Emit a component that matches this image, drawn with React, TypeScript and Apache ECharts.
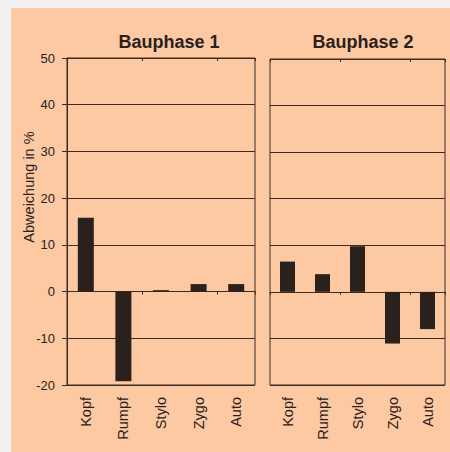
import React, { useEffect, useRef } from "react";
import * as echarts from "echarts";

const categories = ["Kopf", "Rumpf", "Stylo", "Zygo", "Auto"];
const phase1Values = [15.8, -19.2, 0.3, 1.6, 1.6];
const phase2Values = [6.5, 3.8, 9.8, -11.1, -8.0];
const titles = ["Bauphase 1", "Bauphase 2"];
const yAxisName = "Abweichung in %";

const INK = "#2b211c";
const LINE = "#3d2b22";
const PEACH = "#fcc9a3";

export default function App() {
  const ref = useRef<HTMLDivElement>(null);
  useEffect(() => {
    if (!ref.current) return;
    const chart = echarts.init(ref.current, null, { renderer: "svg" });
    const font = "Liberation Sans";
    const grids = [
      { left: 67, right: 195, top: 58, bottom: 67 },
      { left: 270, right: 5, top: 59, bottom: 67 },
    ];
    const xAxes: any[] = [];
    const yAxes: any[] = [];
    grids.forEach((_, gi) => {
      xAxes.push({
        type: "category", gridIndex: gi, data: categories,
        axisLine: { onZero: true, lineStyle: { color: LINE, width: 1 } },
        axisTick: { show: true, length: 3, inside: false, lineStyle: { color: LINE } },
        axisLabel: { show: false },
      });
      xAxes.push({
        type: "category", gridIndex: gi, data: categories,
        axisLine: { onZero: true, show: false },
        axisTick: { show: true, length: 3, inside: true, lineStyle: { color: LINE } },
        axisLabel: { show: false },
      });
      xAxes.push({
        type: "category", gridIndex: gi, data: categories, position: "bottom",
        axisLine: { show: false, onZero: false },
        axisTick: { show: false },
        axisLabel: { rotate: 90, margin: 12, color: INK, fontSize: 14.5, fontFamily: font },
      });
      yAxes.push({
        type: "value", gridIndex: gi, min: -20, max: 50, interval: 10,
        axisLine: { show: gi === 0, lineStyle: { color: LINE } },
        axisTick: { show: gi === 0, length: 5, lineStyle: { color: LINE } },
        axisLabel: { show: gi === 0, margin: 12, color: INK, fontSize: 13, fontFamily: font },
        splitLine: { show: true, lineStyle: { color: LINE, width: 1 } },
      });
    });
    // helper grid carrying only the y-axis title, centred where the reference has it
    xAxes.push({ type: "category", gridIndex: 2, data: categories, show: false });
    yAxes.push({
      type: "value", gridIndex: 2, min: 0, max: 1,
      name: yAxisName, nameLocation: "middle", nameRotate: 90, nameGap: 31,
      nameTextStyle: { color: INK, fontSize: 14.5, fontFamily: font },
      axisLine: { show: false }, axisTick: { show: false }, axisLabel: { show: false }, splitLine: { show: false },
    });
    const option: any = {
      animation: false,
      backgroundColor: "#f3f1ef",
      graphic: [
        { type: "rect", shape: { x: 11, y: 8, width: 450, height: 452 }, style: { fill: PEACH }, z: -10, silent: true },
      ],
      title: titles.map((t, i) => ({
        text: t,
        left: i === 0 ? 164 : 358,
        top: 28,
        textAlign: "center",
        textStyle: { fontSize: 18, fontWeight: "bold", color: INK, fontFamily: font },
      })),
      grid: [
        ...grids.map((g) => ({ ...g, show: true, borderColor: LINE, borderWidth: 1, backgroundColor: "transparent" })),
        { left: 67, right: 195, top: 100, bottom: 178, show: false },
      ],
      xAxis: xAxes,
      yAxis: yAxes,
      series: [
        { type: "bar", xAxisIndex: 0, yAxisIndex: 0, data: phase1Values, barWidth: 16, itemStyle: { color: INK } },
        { type: "bar", xAxisIndex: 3, yAxisIndex: 1, data: phase2Values, barWidth: 15, itemStyle: { color: INK } },
      ],
    };
    chart.setOption(option);
    return () => chart.dispose();
  }, []);
  return <div ref={ref} style={{ position: "fixed", left: 0, top: 0, width: 450, height: 452 }} />;
}
